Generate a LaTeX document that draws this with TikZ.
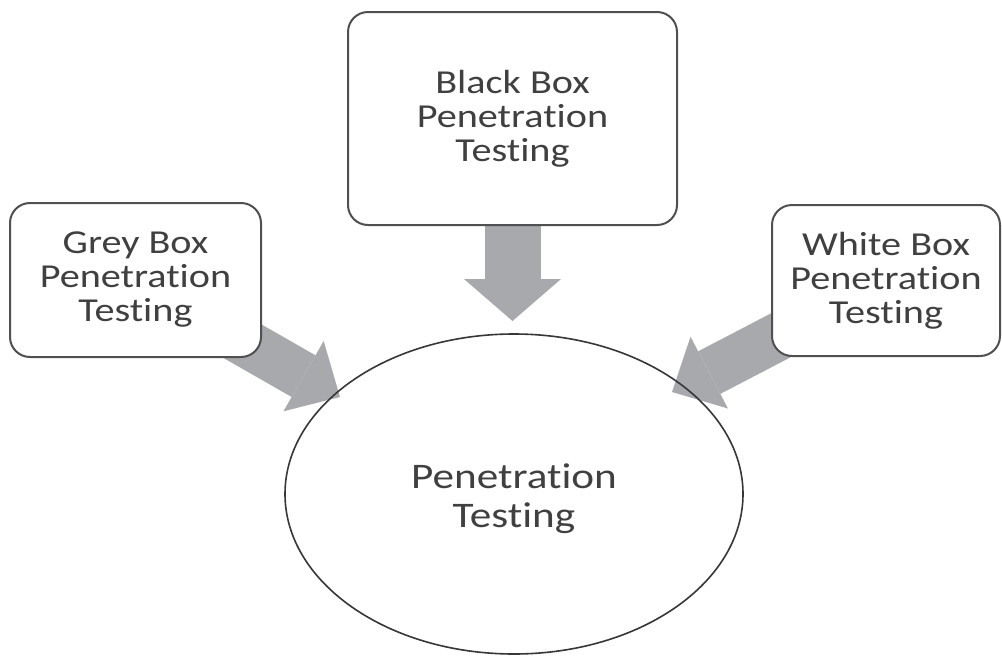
\documentclass[tikz,border=0pt]{standalone}
\usepackage{fontspec}
\setmainfont[FakeStretch=1.2,Ligatures=NoCommon]{Carlito}
\usetikzlibrary{arrows.meta,shapes.geometric}
\pgfdeclarelayer{background}
\pgfsetlayers{background,main}
\definecolor{txt}{RGB}{64,64,64}
\definecolor{boxc}{RGB}{80,80,80}
\definecolor{arrc}{RGB}{167,169,173}
\definecolor{ellc}{RGB}{55,55,55}
\tikzset{
  tbox/.style={draw=boxc, line width=2pt, rounded corners=20pt, fill=white,
    align=center, text=txt, inner sep=0pt,
    font=\fontsize{33.5}{34}\selectfont},
  darrow/.style={draw=arrc, line width=56pt,
    -{Triangle[width=97pt,length=42pt,line width=0pt]}},
  sarrow/.style={draw=arrc, line width=48pt,
    -{Triangle[width=81pt,length=42pt,line width=0pt]}},
  ptxt/.style={align=center, text=txt, inner sep=0pt,
    font=\fontsize{36}{39}\selectfont}
}
\begin{document}
\begin{tikzpicture}[x=1pt,y=-1pt]
\useasboundingbox (0,0) rectangle (1002,656);
% central ellipse
\node[draw=ellc, line width=1.6pt, ellipse, minimum width=458pt, minimum height=320pt, inner sep=0pt] (pt) at (514,494) {};
\node[ptxt] (ptext) at (514,499) {Penetration\\Testing};
% boxes
\node[tbox, minimum width=329pt, minimum height=213pt] (black) at (512.5,118.5) {Black Box\\Penetration\\Testing};
\node[tbox, minimum width=251pt, minimum height=154pt] (grey) at (135.5,280) {Grey Box\\Penetration\\Testing};
\node[tbox, minimum width=228pt, minimum height=151pt] (white) at (886,280.5) {White Box\\Penetration\\Testing};
% arrow tips
\coordinate (btip) at (512.5,321);
\coordinate (gtip) at (340,397);
\coordinate (wtip) at (672,392);
\begin{pgfonlayer}{background}
\fill[white] (0,0) rectangle (1002,656);
\draw[darrow] (black.center) -- (btip);
\draw[sarrow] (grey.center) -- (gtip);
\draw[sarrow] (white.center) -- (wtip);
\end{pgfonlayer}
\end{tikzpicture}
\end{document}
